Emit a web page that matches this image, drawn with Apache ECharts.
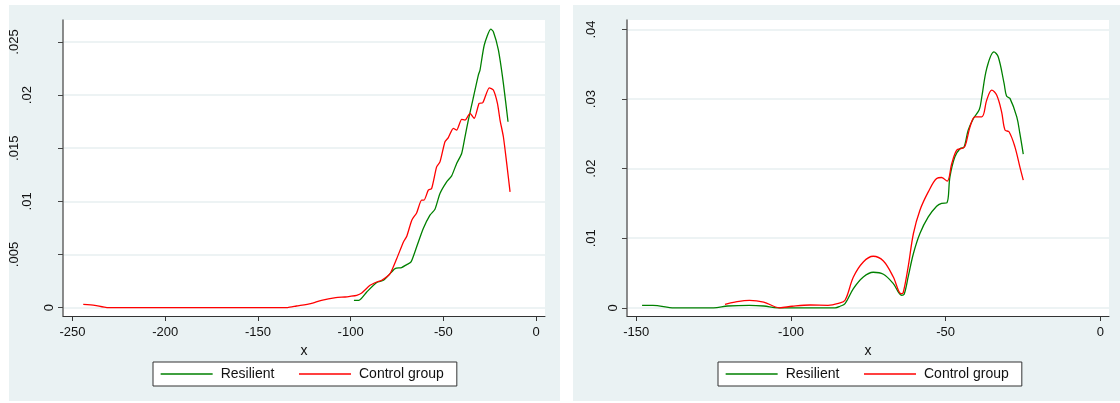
<!DOCTYPE html>
<html><head><meta charset="utf-8">
<script src="https://cdn.jsdelivr.net/npm/echarts@6/dist/echarts.min.js"></script>
<style>
html,body{margin:0;padding:0;background:#fff;}
#wrap{position:relative;width:1120px;height:403px;overflow:hidden;}
.panel{position:absolute;background:#eaf2f3;}
#chart{position:absolute;left:0;top:0;width:1120px;height:403px;}
</style></head><body>
<div id="wrap">
<div class="panel" style="left:9px;top:5px;width:551px;height:396px"></div>
<div class="panel" style="left:573px;top:5px;width:547px;height:396px"></div>
<div id="chart"></div>
</div>
<script>
const seriesNames = ['Resilient', 'Control group'];
const leftXTicks = [-250, -200, -150, -100, -50, 0];
const leftYTicks = [0, 0.005, 0.01, 0.015, 0.02, 0.025];
const rightXTicks = [-150, -100, -50, 0];
const rightYTicks = [0, 0.01, 0.02, 0.03, 0.04];

const leftResX = [-98.2,-95.5,-91.3,-85.9,-82.3,-78.7,-76,-72.5,-69.7,-67.4,-64.4,-60.8,-57.2,-54.5,-51.8,-48.2,-45.5,-42.8,-40.1,-38.3,-36.5,-34.1,-31.1,-30.2,-27.9,-24.4,-23,-20.3,-17.6,-15.1];
const leftResY = [.00069,.00069,.00147,.00236,.00257,.0032,.00367,.00377,.00405,.0043,.00571,.00744,.0087,.00926,.01074,.01184,.0124,.01357,.01451,.01608,.01765,.01953,.02189,.02236,.02472,.02622,.02597,.02425,.02111,.01749];
const leftConX = [-244.2,-238,-231.4,-134,-129.2,-121.5,-115.7,-108,-103,-100.3,-96.7,-94,-89.5,-85.9,-83.2,-78.7,-75.1,-71.5,-69.7,-67,-64.4,-61.7,-60.4,-58.1,-56.3,-53.6,-51.8,-49.1,-47.3,-44.6,-42.8,-40.1,-38.3,-35.6,-33.3,-30.7,-28.7,-25.2,-23,-20.8,-19.4,-17.6,-15.8,-14];
const leftConY = [.00031,.00022,0,0,.00015,.00038,.00069,.00094,.001,.00106,.00116,.00138,.0021,.00241,.00257,.0032,.00462,.00618,.00672,.00823,.00891,.01011,.01011,.01105,.01121,.01325,.01372,.01561,.016,.01687,.01671,.01772,.01765,.01828,.01781,.01922,.01928,.02069,.02048,.01922,.01765,.01608,.01357,.01089];

const rightResX = [-148.1,-144.6,-137.7,-125,-120.4,-113.4,-108.8,-104.2,-93.8,-85.7,-84.1,-82.5,-79.8,-76.6,-73.4,-70.1,-66.9,-64.2,-63.4,-62.1,-60.4,-58.3,-55.6,-52.9,-51.3,-49.6,-48.6,-47,-45.3,-44.1,-42.7,-41,-39.1,-38.3,-36.7,-34.4,-33,-31.1,-30.3,-29.2,-27,-26,-24.9];
const rightResY = [.00036,.00036,0,0,.00026,.00036,.00026,0,0,0,.00022,.0006,.00276,.00443,.00511,.00482,.00348,.0018,.00194,.00443,.0078,.01068,.01306,.0146,.015,.01508,.01882,.0217,.0229,.02305,.02554,.02722,.02852,.03033,.03442,.0368,.03608,.03226,.03043,.0301,.02745,.02506,.02209];
const rightConX = [-121.3,-118.1,-113.4,-108.8,-103.7,-99.6,-93.8,-88,-84.6,-82.5,-79.8,-76.6,-73.4,-70.1,-66.9,-64.4,-63.7,-62.1,-60.4,-58.3,-55.6,-52.9,-51.3,-49.5,-48,-46.4,-44.8,-43.7,-42.1,-40.5,-38.3,-36.7,-35.1,-33.5,-31.9,-30.8,-29.5,-27.6,-26,-24.9];
const rightConY = [.0005,.00083,.00108,.00083,0,.00022,.0004,.00036,.00065,.00108,.00443,.00659,.00741,.00673,.00443,.00204,.00219,.00587,.01068,.01403,.01666,.01859,.01873,.0182,.02075,.02266,.0229,.02324,.02601,.02745,.02745,.02986,.0313,.03058,.02817,.02554,.0253,.02314,.02026,.01835];

const zip = (xs, ys) => xs.map((x, i) => [x, ys[i]]);
const FONT = '"Liberation Sans", Arial, sans-serif';
const GREEN = '#008000', RED = '#ff0000';

function yFmt(v) {
  if (Math.abs(v) < 1e-12) return '{r1|0}';
  const s = String(+v.toFixed(4)).replace(/^0/, '');
  return '{r' + s.length + '|' + s + '}';
}
const yRich = {
  r1: {fontSize: 13, fontFamily: FONT, color: '#111', padding: [0, 0, 0, 0]},
  r3: {fontSize: 13, fontFamily: FONT, color: '#111', padding: [0, 0, 22, 0]},
  r4: {fontSize: 13, fontFamily: FONT, color: '#111', padding: [0, 0, 35, 0]}
};

function xAxisCfg(idx, min, max, ticks) {
  return {
    type: 'value', gridIndex: idx, min: min, max: max,
    name: 'x', nameLocation: 'middle', nameGap: 22,
    nameTextStyle: {fontSize: 14, fontFamily: FONT, color: '#111'},
    axisLine: {show: true, onZero: false, lineStyle: {color: '#333', width: 1}},
    axisTick: {show: true, length: 5, customValues: ticks, lineStyle: {color: '#333', width: 1}},
    axisLabel: {show: true, margin: 10, fontSize: 13, fontFamily: FONT, color: '#111', customValues: ticks,
      showMinLabel: true, showMaxLabel: true},
    splitLine: {show: false}
  };
}
function yAxisCfg(idx, min, max, ticks) {
  return {
    type: 'value', gridIndex: idx, min: min, max: max,
    axisLine: {show: true, onZero: false, lineStyle: {color: '#666', width: 1.5}},
    axisTick: {show: true, length: 5, customValues: ticks, lineStyle: {color: '#444', width: 1}},
    axisLabel: {show: true, rotate: 90, margin: 7, customValues: ticks, formatter: yFmt, rich: yRich},
    splitLine: {show: true, customValues: ticks, lineStyle: {color: '#e7eff1', width: 1.5}}
  };
}
function lineSeries(name, data, color, xi, smooth) {
  return {
    type: 'line', name: name, data: data, xAxisIndex: xi, yAxisIndex: xi,
    symbol: 'none', showSymbol: false, smooth: smooth,
    lineStyle: {color: color, width: 1.3}, itemStyle: {color: color}
  };
}
function legendCfg(left) {
  return {
    left: left, top: 362, orient: 'horizontal', data: seriesNames,
    itemWidth: 52, itemHeight: 14, itemGap: 24,
    padding: [5, 13, 5, 7],
    backgroundColor: '#fff', borderColor: '#333', borderWidth: 1,
    itemStyle: {opacity: 0, borderWidth: 0},
    lineStyle: {width: 1.3},
    textStyle: {fontSize: 14, fontFamily: FONT, color: '#111', padding: [0, 0, 0, 3]},
    selectedMode: false
  };
}

const chart = echarts.init(document.getElementById('chart'), null, {renderer: 'canvas'});
chart.setOption({
  animation: false,
  backgroundColor: 'transparent',
  grid: [
    {left: 63, top: 20, width: 482, height: 296, show: true, backgroundColor: '#fff', borderWidth: 0, containLabel: false},
    {left: 627, top: 20, width: 482, height: 296, show: true, backgroundColor: '#fff', borderWidth: 0, containLabel: false}
  ],
  xAxis: [xAxisCfg(0, -255.12, 4.85, leftXTicks), xAxisCfg(1, -152.97, 2.81, rightXTicks)],
  yAxis: [yAxisCfg(0, -0.00079, 0.02707, leftYTicks), yAxisCfg(1, -0.00118, 0.04137, rightYTicks)],
  legend: [legendCfg(153), legendCfg(718)],
  series: [
    lineSeries(seriesNames[0], zip(leftResX, leftResY), GREEN, 0, 0.2),
    lineSeries(seriesNames[1], zip(leftConX, leftConY), RED, 0, 0.2),
    lineSeries(seriesNames[0], zip(rightResX, rightResY), GREEN, 1, 0.35),
    lineSeries(seriesNames[1], zip(rightConX, rightConY), RED, 1, 0.35)
  ]
});
</script>
</body></html>
